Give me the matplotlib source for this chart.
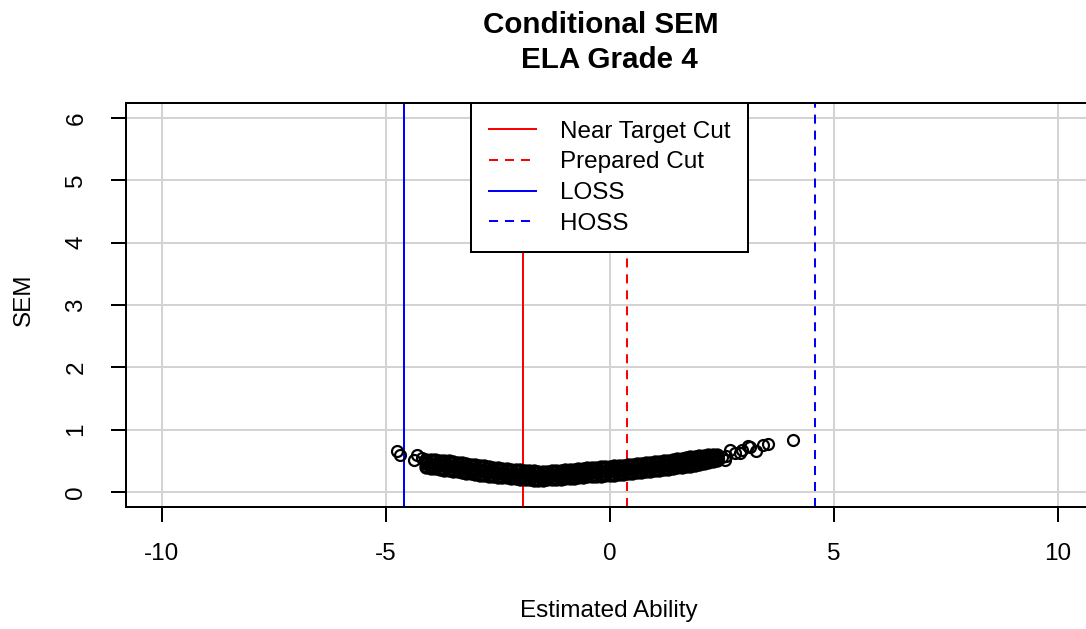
import matplotlib
matplotlib.use("Agg")
import matplotlib.pyplot as plt

plt.rcParams['font.family'] = ['Liberation Sans', 'DejaVu Sans']
plt.rcParams['lines.scale_dashes'] = False

# ---------------- data ----------------
title_line1 = "Conditional SEM"
title_line2 = "ELA Grade 4"
x_label = "Estimated Ability"
y_label = "SEM"

x_ticks = [-10, -5, 0, 5, 10]
y_ticks = [0, 1, 2, 3, 4, 5, 6]

# reference lines
near_target_cut = -1.94
prepared_cut = 0.38
loss = -4.6
hoss = 4.58

# dense band of examinees (ability, SEM lower / middle / upper)
ability_grid = [-4.1, -4.0, -3.9, -3.8, -3.7, -3.6, -3.5, -3.4, -3.3, -3.2,
                -3.1, -3.0, -2.9, -2.8, -2.7, -2.6, -2.5, -2.4, -2.3, -2.2,
                -2.1, -2.0, -1.9, -1.8, -1.7, -1.6, -1.5, -1.4, -1.3, -1.2,
                -1.1, -1.0, -0.9, -0.8, -0.7, -0.6, -0.5, -0.4, -0.3, -0.2,
                -0.1, 0.0, 0.1, 0.2, 0.3, 0.4, 0.5, 0.6, 0.7, 0.8,
                0.9, 1.0, 1.1, 1.2, 1.3, 1.4, 1.5, 1.6, 1.7, 1.8,
                1.9, 2.0, 2.1, 2.2, 2.3, 2.4]
sem_low = [0.40, 0.39, 0.38, 0.37, 0.36, 0.35, 0.34, 0.33, 0.32, 0.31,
           0.30, 0.29, 0.28, 0.27, 0.26, 0.25, 0.245, 0.24, 0.235, 0.23,
           0.22, 0.215, 0.21, 0.205, 0.20, 0.20, 0.20, 0.205, 0.21, 0.21,
           0.215, 0.22, 0.225, 0.23, 0.235, 0.24, 0.25, 0.255, 0.26, 0.265,
           0.27, 0.275, 0.28, 0.29, 0.295, 0.30, 0.31, 0.32, 0.325, 0.335,
           0.34, 0.35, 0.355, 0.365, 0.375, 0.385, 0.395, 0.405, 0.415, 0.425,
           0.44, 0.45, 0.465, 0.48, 0.50, 0.51]
sem_mid = [0.46, 0.45, 0.44, 0.435, 0.43, 0.42, 0.41, 0.40, 0.39, 0.38,
           0.37, 0.36, 0.35, 0.34, 0.33, 0.32, 0.31, 0.30, 0.295, 0.29,
           0.285, 0.28, 0.275, 0.27, 0.265, 0.26, 0.26, 0.265, 0.27, 0.275,
           0.28, 0.285, 0.29, 0.295, 0.30, 0.31, 0.315, 0.32, 0.325, 0.33,
           0.335, 0.34, 0.35, 0.355, 0.36, 0.37, 0.375, 0.385, 0.39, 0.40,
           0.405, 0.415, 0.42, 0.43, 0.44, 0.45, 0.46, 0.47, 0.48, 0.49,
           0.505, 0.515, 0.525, 0.54, 0.55, 0.56]
sem_high = [0.52, 0.51, 0.51, 0.50, 0.50, 0.49, 0.48, 0.47, 0.46, 0.45,
            0.44, 0.43, 0.42, 0.41, 0.40, 0.39, 0.38, 0.37, 0.365, 0.36,
            0.355, 0.35, 0.345, 0.34, 0.33, 0.32, 0.32, 0.325, 0.33, 0.34,
            0.345, 0.35, 0.355, 0.36, 0.365, 0.37, 0.38, 0.385, 0.39, 0.395,
            0.40, 0.405, 0.41, 0.42, 0.425, 0.435, 0.44, 0.45, 0.455, 0.465,
            0.47, 0.48, 0.485, 0.495, 0.505, 0.515, 0.525, 0.535, 0.545, 0.555,
            0.565, 0.575, 0.585, 0.595, 0.60, 0.60]

# sparse examinees at the extremes
ability_sparse = [-4.76, -4.68, -4.31, -4.37, -4.20, -4.13,
                  2.42, 2.50, 2.57, 2.60, 2.68, 2.80, 2.90, 2.94,
                  3.09, 3.13, 3.27, 3.42, 3.53, 4.09]
sem_sparse = [0.66, 0.60, 0.59, 0.51, 0.55, 0.51,
              0.55, 0.57, 0.51, 0.58, 0.68, 0.62, 0.63, 0.68,
              0.74, 0.72, 0.66, 0.75, 0.775, 0.83]

legend_labels = ["Near Target Cut", "Prepared Cut", "LOSS", "HOSS"]

# ---------------- figure ----------------
W, H = 1086, 629
fig = plt.figure(figsize=(W / 100, H / 100), dpi=100)
px = 0.72  # points per pixel at 100 dpi

ax_left, ax_top, ax_bottom = 126, 103, 507
ax_width = 21.6 * 44.8
ax = fig.add_axes([ax_left / W, 1 - ax_bottom / H, ax_width / W, (ax_bottom - ax_top) / H])
ax.set_xlim(-10.8, 10.8)
ax.set_ylim(-0.24, 6.24)

for s in ax.spines.values():
    s.set_linewidth(2 * px)
    s.set_color('black')

ax.set_xticks(x_ticks)
ax.set_yticks(y_ticks)
ax.set_xticklabels([str(v) for v in x_ticks])
ax.set_yticklabels([str(v) for v in y_ticks], rotation=90, va='center')
ax.tick_params(axis='both', direction='out', length=15 * px, width=2 * px,
               labelsize=17.5, colors='black')
ax.tick_params(axis='x', pad=15)
ax.tick_params(axis='y', pad=17)

# grid
for xv in x_ticks:
    ax.axvline(xv, color='#D3D3D3', lw=2 * px, zorder=1)
for yv in y_ticks:
    ax.axhline(yv, color='#D3D3D3', lw=2 * px, zorder=1)

# reference lines
dash = (0, (6.5, 5.0))
h1 = ax.axvline(near_target_cut, color='#FF0000', lw=2 * px, zorder=2)
h2 = ax.axvline(prepared_cut, color='#FF0000', lw=2 * px, ls=dash, zorder=2)
h3 = ax.axvline(loss, color='#0000FF', lw=2 * px, zorder=2)
h4 = ax.axvline(hoss, color='#0000FF', lw=2 * px, ls=dash, zorder=2)

# points
ms = 7.9
for row in (sem_low, sem_mid, sem_high):
    ax.plot(ability_grid, row, ls='none', marker='o', ms=ms, mfc='none',
            mec='black', mew=3.4 * px, zorder=3)
ax.plot(ability_sparse, sem_sparse, ls='none', marker='o', ms=ms, mfc='none',
        mec='black', mew=2.2 * px, zorder=3)

leg = ax.legend([h1, h2, h3, h4], legend_labels, loc='upper center',
                bbox_to_anchor=(609.5 / W, 1 - ax_top / H),
                bbox_transform=fig.transFigure, borderaxespad=0,
                fontsize=17.5, frameon=True, fancybox=False, framealpha=1,
                edgecolor='black', borderpad=0.72, handlelength=1.96,
                handletextpad=0.96, labelspacing=0.36)
leg.get_frame().set_linewidth(2 * px)
leg.set_zorder(5)

# titles and labels
fig.text(601 / W, 1 - 25 / H, title_line1, ha='center', va='center',
         fontsize=21.3, fontweight='bold')
fig.text(609 / W, 1 - 60 / H, title_line2, ha='center', va='center',
         fontsize=21.3, fontweight='bold')
fig.text(609 / W, 1 - 611 / H, x_label, ha='center', va='center', fontsize=17.5)
fig.text(24 / W, 1 - 300 / H, y_label, ha='center', va='center', fontsize=17.5,
         rotation=90)

fig.savefig("out.png", dpi=100)
